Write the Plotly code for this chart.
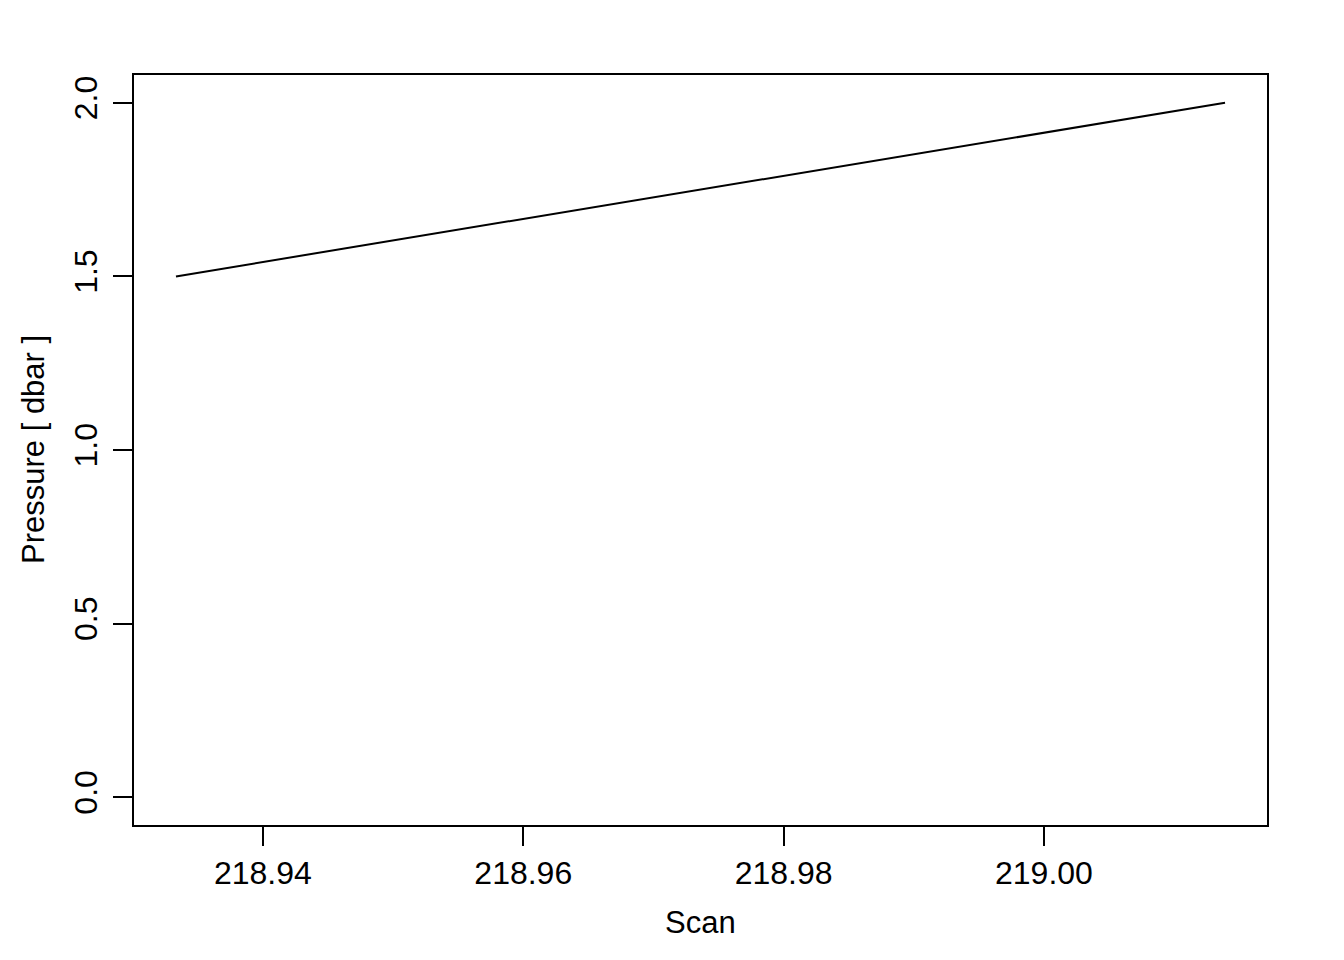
import plotly.graph_objects as go

scan = [218.93332, 219.01391]
pressure = [1.5, 2.0]
x_ticks = [218.94, 218.96, 218.98, 219.00]
x_tick_labels = ["218.94", "218.96", "218.98", "219.00"]
y_ticks = [0.0, 0.5, 1.0, 1.5, 2.0]
y_tick_labels = ["0.0", "0.5", "1.0", "1.5", "2.0"]

xmin, xmax = min(scan), max(scan)
dx = (xmax - xmin) * 0.04
ymin, ymax = 0.0, 2.0
dy = (ymax - ymin) * 0.04

font = "Liberation Sans, Arial, sans-serif"
off = 8  # page body margin

L, R, T, B = 134, 1267, 75, 825  # target box in screen pixels
pw = R - L
ph = B - T

fig = go.Figure()
fig.add_trace(go.Scatter(x=scan, y=pressure, mode="lines",
                         line=dict(color="black", width=2), showlegend=False,
                         hoverinfo="skip"))

axis_common = dict(showgrid=False, zeroline=False, showline=True, mirror=True,
                   linecolor="black", linewidth=2, ticks="outside", ticklen=19,
                   tickwidth=2, tickcolor="black",
                   tickfont=dict(family=font, size=32, color="black"))

fig.update_layout(
    width=1344, height=960,
    margin=dict(l=L - off, r=1344 - R + off, t=T - off, b=960 - B + off),
    paper_bgcolor="white", plot_bgcolor="white",
    xaxis=dict(range=[xmin - dx, xmax + dx], tickvals=x_ticks, ticktext=x_tick_labels,
               **axis_common),
    yaxis=dict(range=[ymin - dy, ymax + dy], tickvals=y_ticks, ticktext=y_tick_labels,
               tickangle=-90, ticklabelstandoff=3, **axis_common),
    annotations=[
        dict(text="Scan", x=0.5, xref="paper", y=(B - 922) / ph, yref="paper", showarrow=False,
             font=dict(family=font, size=31, color="black"), xanchor="center", yanchor="middle"),
        dict(text="Pressure [ dbar ]", x=(33 - L) / pw, xref="paper", y=0.5, yref="paper",
             showarrow=False, textangle=-90, font=dict(family=font, size=31, color="black"),
             xanchor="center", yanchor="middle"),
    ],
)
fig.write_html("out.html")
